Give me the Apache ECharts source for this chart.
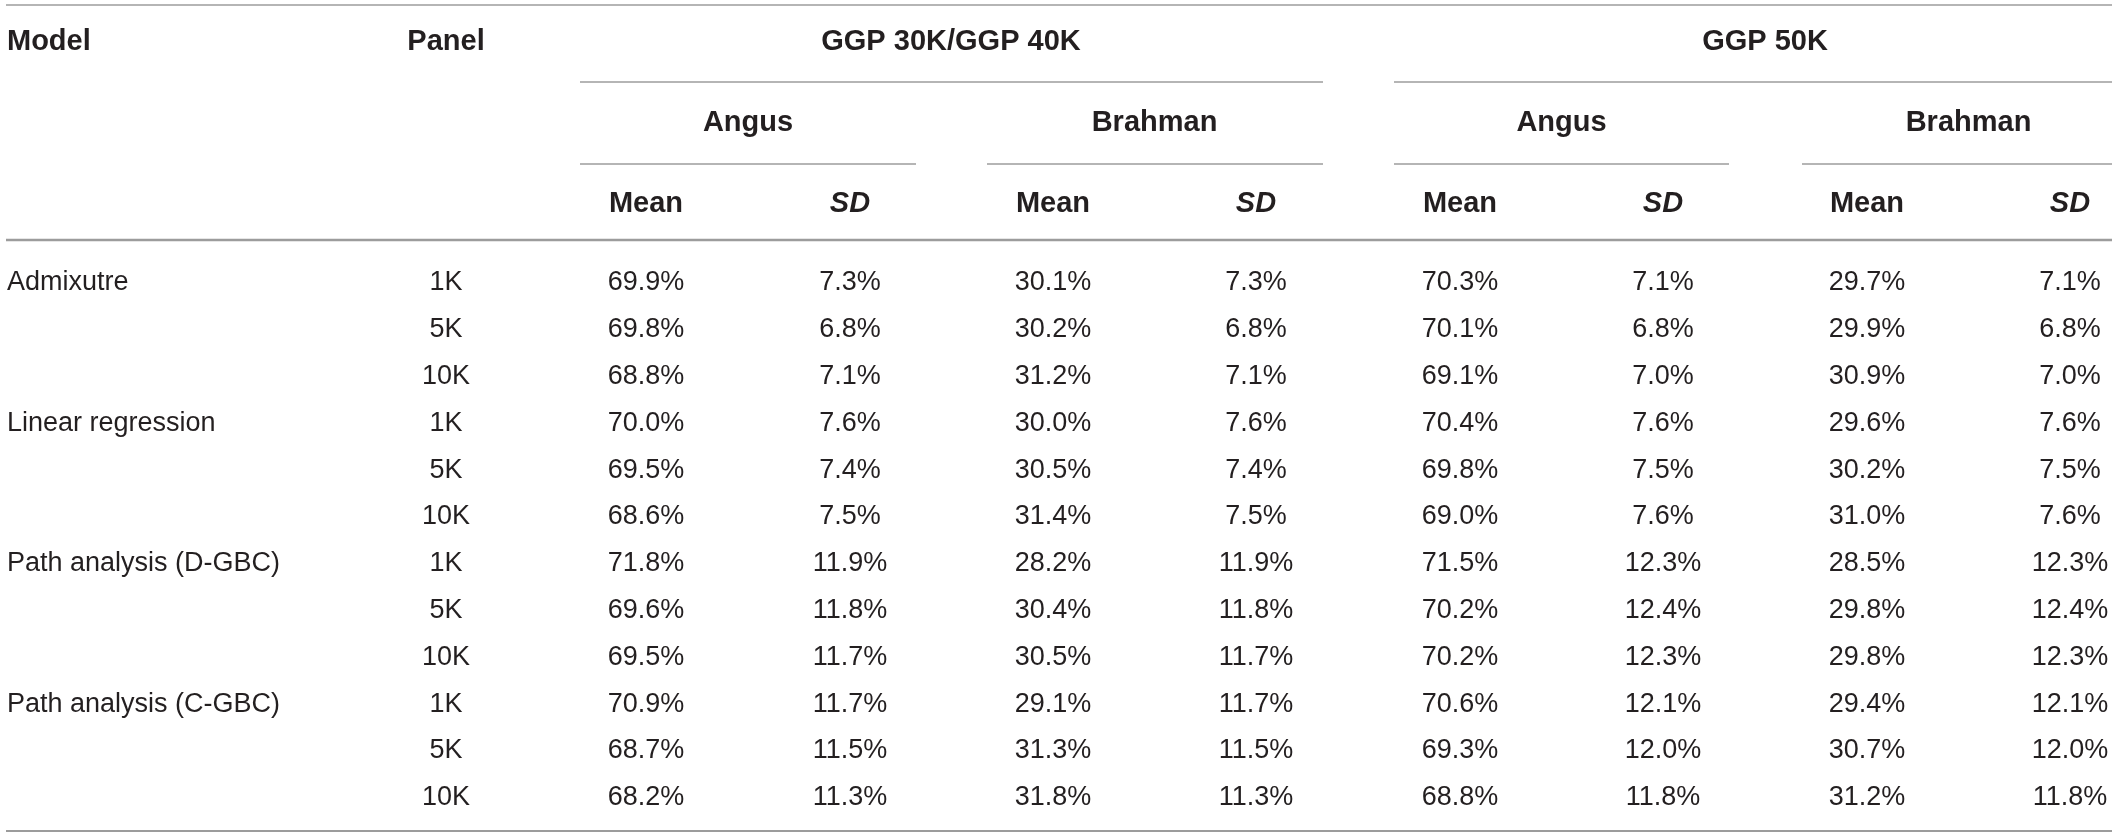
<!DOCTYPE html>
<html>
<head>
<meta charset="utf-8">
<title>Breed composition table</title>
<script src="https://cdn.jsdelivr.net/npm/echarts@6/dist/echarts.min.js"></script>
<style>
  html, body { margin: 0; padding: 0; background: #fff; }
  #main { width: 2118px; height: 838px; }
</style>
</head>
<body>
<div id="main"></div>
<script>
// --- table content ---
var models = ['Admixutre', 'Linear regression', 'Path analysis (D-GBC)', 'Path analysis (C-GBC)'];
var panels = ['1K', '5K', '10K'];
var platforms = ['GGP 30K/GGP 40K', 'GGP 50K'];
var breeds = ['Angus', 'Brahman'];
var stats = ['Mean', 'SD'];

// GGP 30K/GGP 40K
var angus40Mean   = [69.9, 69.8, 68.8, 70.0, 69.5, 68.6, 71.8, 69.6, 69.5, 70.9, 68.7, 68.2];
var angus40SD     = [7.3, 6.8, 7.1, 7.6, 7.4, 7.5, 11.9, 11.8, 11.7, 11.7, 11.5, 11.3];
var brahman40Mean = [30.1, 30.2, 31.2, 30.0, 30.5, 31.4, 28.2, 30.4, 30.5, 29.1, 31.3, 31.8];
var brahman40SD   = [7.3, 6.8, 7.1, 7.6, 7.4, 7.5, 11.9, 11.8, 11.7, 11.7, 11.5, 11.3];
// GGP 50K
var angus50Mean   = [70.3, 70.1, 69.1, 70.4, 69.8, 69.0, 71.5, 70.2, 70.2, 70.6, 69.3, 68.8];
var angus50SD     = [7.1, 6.8, 7.0, 7.6, 7.5, 7.6, 12.3, 12.4, 12.3, 12.1, 12.0, 11.8];
var brahman50Mean = [29.7, 29.9, 30.9, 29.6, 30.2, 31.0, 28.5, 29.8, 29.8, 29.4, 30.7, 31.2];
var brahman50SD   = [7.1, 6.8, 7.0, 7.6, 7.5, 7.6, 12.3, 12.4, 12.3, 12.1, 12.0, 11.8];

var valueColumns = [angus40Mean, angus40SD, brahman40Mean, brahman40SD,
                    angus50Mean, angus50SD, brahman50Mean, brahman50SD];

// --- layout (pixel units of the hidden axes) ---
var W = 2118, H = 838;
var modelX = 7, panelX = 446;
var colX = [646, 850, 1053, 1256, 1460, 1663, 1867, 2070];
var headY = [42, 123, 204];
var rowY0 = 283, rowStep = 46.8;
var ink = '#231f20';
var ruleColor = '#9c9c9c';
var boldFont = 'bold 29px "Liberation Sans", Arial, sans-serif';
var bodyFont = 'normal 27px "Liberation Sans", Arial, sans-serif';

// build the cell list
var cells = [];
function cell(x, y, text, font, align) {
  cells.push({ x: x, y: y, text: text, font: font, align: align || 'center' });
}
cell(modelX, headY[0], 'Model', boldFont, 'left');
cell(panelX, headY[0], 'Panel', boldFont);
platforms.forEach(function (p, pi) {
  cell((colX[pi * 4] + colX[pi * 4 + 3]) / 2, headY[0], p, boldFont);
  breeds.forEach(function (b, bi) {
    var c = pi * 4 + bi * 2;
    cell((colX[c] + colX[c + 1]) / 2, headY[1], b, boldFont);
    stats.forEach(function (s, si) {
      cell(colX[c + si], headY[2], s, si === 1 ? 'italic ' + boldFont : boldFont);
    });
  });
});
for (var r = 0; r < angus40Mean.length; r++) {
  var y = rowY0 + r * rowStep;
  if (r % panels.length === 0) cell(modelX, y, models[r / panels.length], bodyFont, 'left');
  cell(panelX, y, panels[r % panels.length], bodyFont);
  valueColumns.forEach(function (col, ci) {
    cell(colX[ci], y, col[r].toFixed(1) + '%', bodyFont);
  });
}

// horizontal rules: [x1, x2, y, width]
var rules = [
  [6, 2112, 5, 1.6],
  [580, 1323, 82, 1.6], [1394, 2112, 82, 1.6],
  [580, 916, 164, 1.6], [987, 1323, 164, 1.6], [1394, 1729, 164, 1.6], [1802, 2112, 164, 1.6],
  [6, 2112, 240, 2.4],
  [6, 2112, 831, 2]
];

var chart = echarts.init(document.getElementById('main'));
chart.setOption({
  animation: false,
  grid: { left: 0, right: 0, top: 0, bottom: 0 },
  xAxis: { type: 'value', min: 0, max: W, show: false },
  yAxis: { type: 'value', min: 0, max: H, inverse: true, show: false },
  series: [
    {
      type: 'custom',
      silent: true,
      clip: false,
      encode: { x: 0, y: 1 },
      data: rules.map(function (r) { return [r[0], r[2]]; }),
      renderItem: function (params, api) {
        var r = rules[params.dataIndex];
        var a = api.coord([r[0], r[2]]);
        var b = api.coord([r[1], r[2]]);
        return {
          type: 'line',
          shape: { x1: a[0], y1: a[1], x2: b[0], y2: b[1] },
          style: { stroke: ruleColor, lineWidth: r[3] }
        };
      }
    },
    {
      type: 'custom',
      silent: true,
      clip: false,
      encode: { x: 0, y: 1 },
      data: cells.map(function (c) { return [c.x, c.y]; }),
      renderItem: function (params, api) {
        var c = cells[params.dataIndex];
        var p = api.coord([c.x, c.y]);
        return {
          type: 'text',
          x: p[0],
          y: p[1],
          style: {
            text: c.text,
            font: c.font,
            fill: ink,
            align: c.align,
            verticalAlign: 'middle',
            textAlign: c.align,
            textVerticalAlign: 'middle'
          }
        };
      }
    }
  ]
});
</script>
</body>
</html>
